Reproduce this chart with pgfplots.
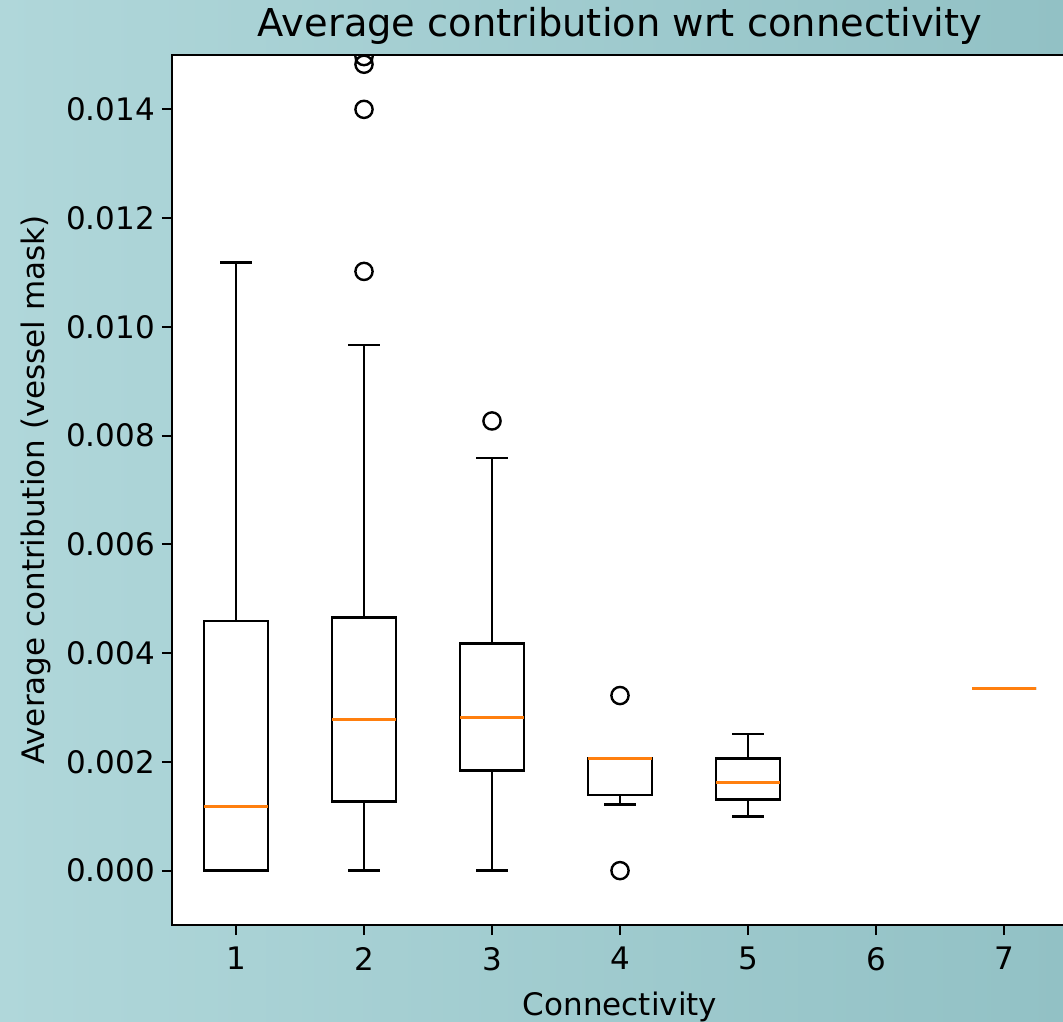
\documentclass[border=0pt]{standalone}
\usepackage{fontspec}
\setmainfont{DejaVu Sans}
\usepackage{pgfplots}
\pgfplotsset{compat=1.18}
\usepgfplotslibrary{statistics}
\definecolor{mplorange}{HTML}{FF7F0E}
\definecolor{bgleft}{RGB}{176,215,218}
\definecolor{bgright}{RGB}{146,193,197}

\pgfplotsset{
  mplbox/.style={
    black, line width=1.3pt, solid,
    mark=o, mark size=4.3pt,
    mark options={black, line width=1.2pt, fill=none},
    boxplot/draw direction=y,
    boxplot/box extend=0.5,
    boxplot/whisker extend=0.25,
    boxplot/every median/.style={mplorange, line width=1.3pt},
  },
}

\begin{document}
\begin{tikzpicture}
\shade[left color=bgleft, right color=bgright] (-86pt,-48pt) rectangle (445.5pt,462.5pt);
\begin{axis}[
  scale only axis,
  width=448pt, height=435pt,
  xmin=0.5, xmax=7.5,
  ymin=-0.001, ymax=0.015,
  axis background/.style={fill=white},
  axis line style={line width=1pt},
  clip marker paths=true,
  xtick={1,2,3,4,5,6,7},
  ytick={0,0.002,0.004,0.006,0.008,0.010,0.012,0.014},
  scaled y ticks=false,
  yticklabel style={/pgf/number format/.cd, fixed, fixed zerofill, precision=3},
  xticklabel style={yshift=-2.5pt},
  /pgf/number format/assume math mode=true,
  tick label style={font=\fontsize{15.5}{18}\selectfont},
  tick pos=left,
  tick align=outside,
  major tick length=5pt,
  every tick/.style={black, line width=1pt},
  title={Average contribution wrt connectivity},
  title style={font=\fontsize{19.2}{22}\selectfont, at={(axis description cs:0.5,1)}, anchor=base, yshift=3pt},
  xlabel={Connectivity},
  xlabel style={font=\fontsize{15.5}{18}\selectfont, at={(axis description cs:0.5,0)}, anchor=base, yshift=-45pt},
  ylabel={Average contribution (vessel mask)},
  ylabel style={font=\fontsize{15.5}{18}\selectfont, at={(axis description cs:-0.142,0.5)}, anchor=base, rotate=0},
]
% connectivity 1
\addplot[mplbox, boxplot prepared={draw position=1,
  lower whisker=0, lower quartile=0, median=0.00118,
  upper quartile=0.00459, upper whisker=0.01118}] coordinates {};
% connectivity 2
\addplot[mplbox, boxplot prepared={draw position=2,
  lower whisker=0, lower quartile=0.00127, median=0.00278,
  upper quartile=0.00466, upper whisker=0.00967}]
  table[row sep=\\, y index=0] {0.01102\\ 0.01400\\ 0.01483\\ 0.01497\\};
% connectivity 3
\addplot[mplbox, boxplot prepared={draw position=3,
  lower whisker=0, lower quartile=0.00184, median=0.00282,
  upper quartile=0.00418, upper whisker=0.00759}]
  table[row sep=\\, y index=0] {0.00827\\};
% connectivity 4
\addplot[mplbox, boxplot prepared={draw position=4,
  lower whisker=0.00122, lower quartile=0.00139, median=0.00206,
  upper quartile=0.00206, upper whisker=0.00206}]
  table[row sep=\\, y index=0] {0.00322\\ 0\\};
% connectivity 5
\addplot[mplbox, boxplot prepared={draw position=5,
  lower whisker=0.00100, lower quartile=0.00131, median=0.00162,
  upper quartile=0.00206, upper whisker=0.00251}] coordinates {};
% connectivity 7
\addplot[mplbox, boxplot prepared={draw position=7,
  lower whisker=0.003345, lower quartile=0.003345, median=0.003345,
  upper quartile=0.003345, upper whisker=0.003345}] coordinates {};
\end{axis}
\pgfresetboundingbox
\useasboundingbox (-86pt,-48pt) rectangle (445.5pt,462.5pt);
\end{tikzpicture}
\end{document}
